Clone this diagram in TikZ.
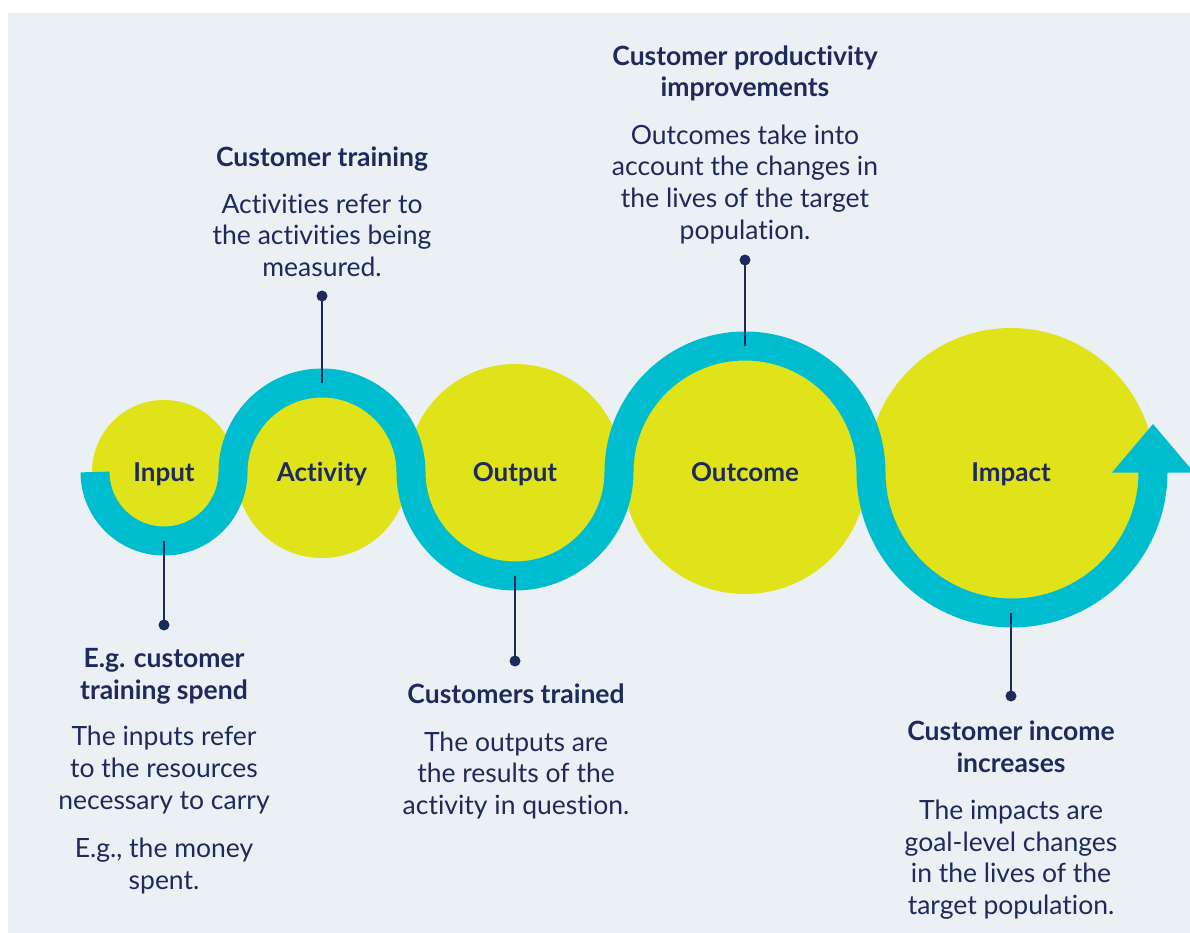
\documentclass[tikz,border=0pt]{standalone}
\usepackage{fontspec}
\setmainfont[Ligatures=NoCommon]{Lato}
\definecolor{bg}{HTML}{EAF0F3}
\definecolor{navy}{HTML}{1E2A5C}
\definecolor{yel}{HTML}{E0E31A}
\definecolor{teal}{HTML}{00BCCF}
\begin{document}
\begin{tikzpicture}[x=1pt,y=-1pt,
  ball/.style={circle,fill=yel,inner sep=0pt,draw=none},
  band/.style={draw=teal,line width=29pt,line cap=butt},
  lbl/.style={font=\bfseries\fontsize{26}{30}\selectfont,text=navy,anchor=base,inner sep=0pt},
  hdr/.style={font=\bfseries\fontsize{26.5}{31.7}\selectfont,text=navy,align=center,anchor=base,inner sep=0pt},
  body/.style={font=\fontsize{26.5}{31.7}\selectfont,text=navy,align=center,anchor=base,inner sep=0pt},
  pin/.style={draw=navy,line width=2.6pt},
  dot/.style={circle,fill=navy,minimum size=11pt,inner sep=0pt}]
\useasboundingbox (0,0) rectangle (1190,933);
\fill[white] (0,0) rectangle (1190,933);
\fill[bg] (8,13) rectangle (1190,933);
% circles
\node[ball,minimum size=144pt] (cin) at (164,472) {};
\node[ball,minimum size=172pt] (cact) at (322,472) {};
\node[ball,minimum size=216pt] (cout) at (515,472) {};
\node[ball,minimum size=244pt] (cocm) at (745,472) {};
\node[ball,minimum size=288pt] (cimp) at (1011,472) {};
% band
\draw[band] (95,472) arc[start angle=180,end angle=0,radius=69]
  arc[start angle=180,end angle=360,radius=89]
  arc[start angle=180,end angle=0,radius=104]
  arc[start angle=180,end angle=360,radius=126]
  arc[start angle=180,end angle=0,radius=141];
\fill[teal] (1112,472.5) -- (1153,424) -- (1194,472.5) -- cycle;
% labels
\node[lbl] (lin) at (164,481) {Input};
\node[lbl] (lact) at (322,481) {Activity};
\node[lbl] (lout) at (515,481) {Output};
\node[lbl] (locm) at (745,481) {Outcome};
\node[lbl] (limp) at (1011,481) {Impact};
% pins
\coordinate (p1) at (164,541);
\coordinate (p2) at (322,383);
\coordinate (p3) at (515,576);
\coordinate (p4) at (745,346);
\coordinate (p5) at (1011,613);
\node[dot] (d1) at (164,625) {};
\node[dot] (d2) at (322,296) {};
\node[dot] (d3) at (515,661) {};
\node[dot] (d4) at (745,260) {};
\node[dot] (d5) at (1011,696) {};
\draw[pin] (p1) -- (d1.center);
\draw[pin] (p2) -- (d2.center);
\draw[pin] (p3) -- (d3.center);
\draw[pin] (p4) -- (d4.center);
\draw[pin] (p5) -- (d5.center);
% texts (anchored at the baseline of their last line)
\node[hdr] (hact) at (322,167) {Customer training};
\node[body] (bact) at (322,276.5) {Activities refer to\\the activities being\\measured.};
\node[hdr] (hocm) at (745,97) {Customer productivity\\improvements};
\node[body] (bocm) at (745,239.3) {Outcomes take into\\account the changes in\\the lives of the target\\population.};
\node[hdr] (hin) at (164,699.3) {E.g. customer\\training spend};
\node[body] (bin) at (164,809.3) {The inputs refer\\to the resources\\necessary to carry};
\node[body] (bin2) at (164,889.3) {E.g., the money\\spent.};
\node[hdr] (hout) at (516,703) {Customers trained};
\node[body] (bout) at (516,814.5) {The outputs are\\the results of the\\activity in question.};
\node[hdr] (himp) at (1011,772) {Customer income\\increases};
\node[body] (bimp) at (1011,914.5) {The impacts are\\goal-level changes\\in the lives of the\\target population.};
\end{tikzpicture}
\end{document}
